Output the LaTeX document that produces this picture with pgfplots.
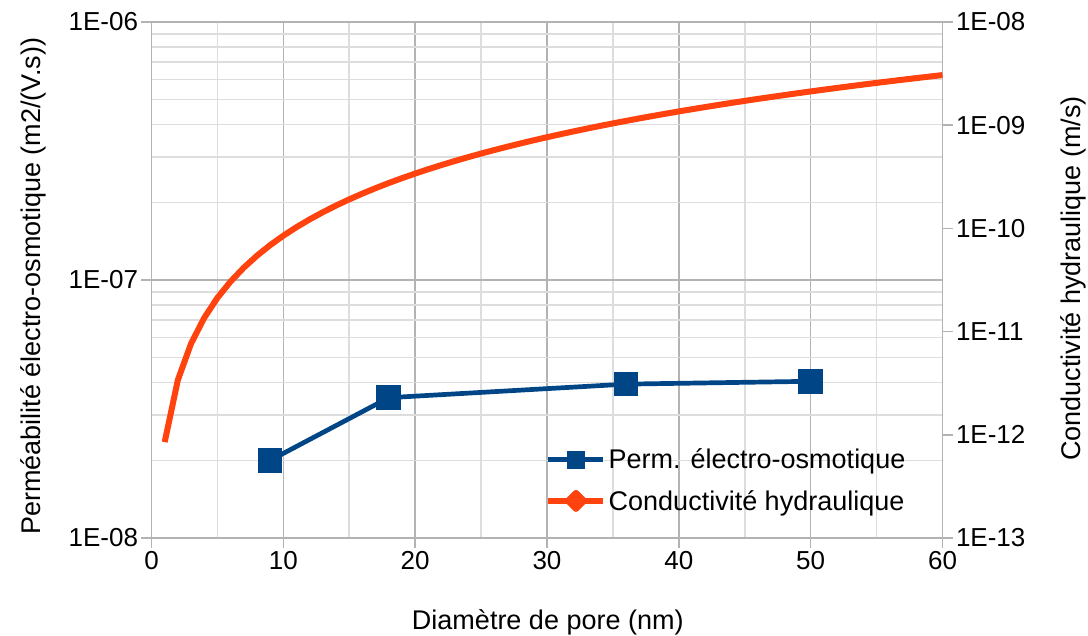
\documentclass[border=0pt]{standalone}
\usepackage{fontspec}
\setmainfont{Liberation Sans}
\usepackage{pgfplots}
\pgfplotsset{compat=1.18}
\definecolor{cblue}{HTML}{004586}
\definecolor{corange}{HTML}{FF420E}
\definecolor{cgrid}{HTML}{B3B3B3}
\definecolor{cminor}{HTML}{DDDDDD}
\begin{document}
\begin{tikzpicture}
\pgfplotsset{every axis/.append style={
  font=\fontsize{26bp}{31bp}\selectfont,
  /pgf/number format/assume math mode=true,
  at={(0,0)}, anchor=south west, scale only axis,
  width=791bp, height=516bp,
  xmin=0, xmax=60,
  tick align=outside,
  major tick length=10bp, minor tick length=0pt,
  every tick/.style={cgrid, line width=1.5bp},
  axis line style={cgrid, line width=1.5bp},
  label style={font=\fontsize{27bp}{32bp}\selectfont},
}}
\begin{axis}[
  ymode=log, ymin=1e-8, ymax=1e-6,
  xtick={0,10,...,60}, minor xtick={5,15,...,55},
  ytick={1e-8,1e-7,1e-6}, yticklabels={1E-08,1E-07,1E-06},
  minor ytick={2e-8,3e-8,4e-8,5e-8,6e-8,7e-8,8e-8,9e-8,2e-7,3e-7,4e-7,5e-7,6e-7,7e-7,8e-7,9e-7},
  xtick pos=bottom, ytick pos=left,
  grid=both,
  major grid style={cgrid, line width=1.5bp},
  minor grid style={cminor, line width=1.5bp},
  xlabel={Diamètre de pore (nm)},
  xlabel style={at={(axis description cs:0.501,-0.163)}, anchor=center},
  ylabel={Perméabilité électro-osmotique (m2/(V.s))},
  ylabel style={at={(axis description cs:-0.1498,0.488)}, anchor=center},
]
\addplot[cblue, line width=4.7bp, mark=square*, mark size=10bp, mark options={solid}] coordinates {
 (9,2.0e-8) (18,3.5e-8) (36,3.95e-8) (50,4.05e-8)
};
\end{axis}
\begin{axis}[
  ymode=log, ymin=1e-13, ymax=1e-8,
  hide x axis,
  axis y line*=right,
  ytick={1e-13,1e-12,1e-11,1e-10,1e-9,1e-8},
  yticklabels={1E-13,1E-12,1E-11,1E-10,1E-09,1E-08},
  minor ytick={},
  ylabel={Conductivité hydraulique (m/s)},
  ylabel style={at={(axis description cs:1.165,0.503)}, anchor=center},
  legend style={at={(axis description cs:0.4975,0.177)}, anchor=north west,
    draw=none, fill=none, inner sep=0pt, row sep=16bp,
    font=\fontsize{27bp}{32bp}\selectfont},
  legend cell align=left,
]
\addlegendimage{legend image code/.code={
  \draw[cblue, line width=5bp] (0bp,0bp) -- (55bp,0bp);
  \fill[cblue] (19bp,-8.5bp) rectangle (36bp,8.5bp);}}
\addlegendentry{Perm. électro-osmotique}
\addplot[corange, line width=6bp, line join=round,
  legend image code/.code={
  \draw[corange, line width=6.5bp] (0bp,0bp) -- (55bp,0bp);
  \fill[corange] (27.5bp,-8bp) -- (35.5bp,0bp) -- (27.5bp,8bp) -- (19.5bp,0bp) -- cycle;}] coordinates {
 (1,8.5e-13) (2,3.4e-12) (3,7.65e-12) (4,1.36e-11) (5,2.125e-11) (6,3.06e-11)
 (7,4.165e-11) (8,5.44e-11) (9,6.885e-11) (10,8.5e-11) (11,1.0285e-10) (12,1.224e-10)
 (13,1.4365e-10) (14,1.666e-10) (15,1.9125e-10) (16,2.176e-10) (17,2.4565e-10) (18,2.754e-10)
 (19,3.0685e-10) (20,3.4e-10) (21,3.7485e-10) (22,4.114e-10) (23,4.4965e-10) (24,4.896e-10)
 (25,5.3125e-10) (26,5.746e-10) (27,6.1965e-10) (28,6.664e-10) (29,7.1485e-10) (30,7.65e-10)
 (31,8.1685e-10) (32,8.704e-10) (33,9.2565e-10) (34,9.826e-10) (35,1.04125e-9) (36,1.1016e-9)
 (37,1.16365e-9) (38,1.2274e-9) (39,1.29285e-9) (40,1.36e-9) (41,1.42885e-9) (42,1.4994e-9)
 (43,1.57165e-9) (44,1.6456e-9) (45,1.72125e-9) (46,1.7986e-9) (47,1.87765e-9) (48,1.9584e-9)
 (49,2.04085e-9) (50,2.125e-9) (51,2.21085e-9) (52,2.2984e-9) (53,2.38765e-9) (54,2.4786e-9)
 (55,2.57125e-9) (56,2.6656e-9) (57,2.76165e-9) (58,2.8594e-9) (59,2.95885e-9) (60,3.06e-9)
};
\addlegendentry{Conductivité hydraulique}
\end{axis}
\pgfresetboundingbox
\path (-151.5bp,-98bp) rectangle (936.5bp,538bp);
\end{tikzpicture}
\end{document}
